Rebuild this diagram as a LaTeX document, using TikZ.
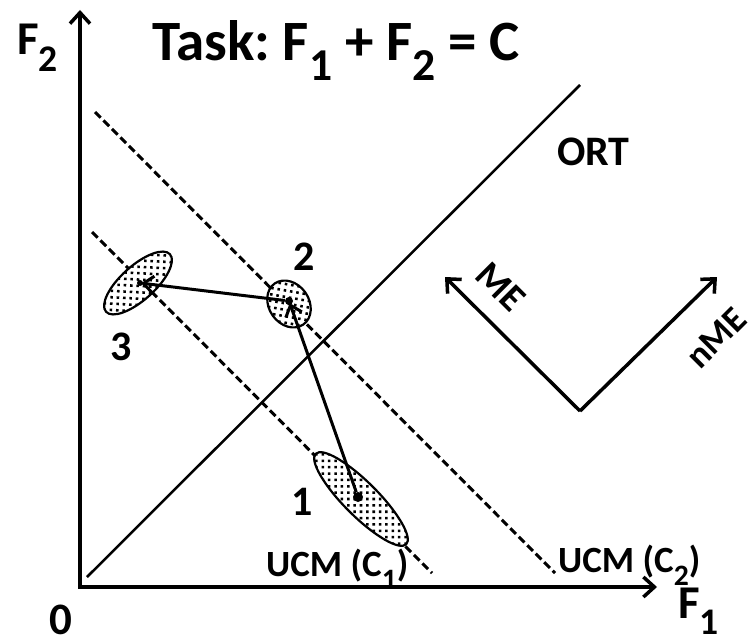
\documentclass[tikz,border=0pt]{standalone}
\usepackage{fontspec}
\setmainfont{Carlito}
\usetikzlibrary{shapes.geometric,arrows.meta,calc}
\newcommand\lowix[1]{\raisebox{-0.36em}{\scalebox{0.8}{#1}}}
\frenchspacing
\begin{document}
\begin{tikzpicture}[x=1pt,y=-1pt,
  fs/.style={font=\fontsize{#1}{#1}\selectfont\bfseries},
  lbl/.style={inner sep=0pt, anchor=base west},
  lblc/.style={inner sep=0pt, anchor=base},
  axis/.style={line width=3.5pt, -{Straight Barb[length=11pt,width=20pt]}},
  dir/.style={line width=3.5pt, -{Straight Barb[length=11pt,width=20pt]}},
  ucm/.style={line width=3pt, dash pattern=on 8pt off 4pt},
  ort/.style={line width=2.5pt},
  move/.style={line width=3pt, shorten >=-2pt, -{Straight Barb[length=10pt,width=17pt]}},
  stipple/.style={path picture={
    \foreach \i in {-8,...,8}{\foreach \j in {-8,...,8}{
      \fill[black] ($(path picture bounding box.center)+(\i*9pt,\j*9pt)$) circle (1.8pt);
      \fill[black] ($(path picture bounding box.center)+(\i*9pt+4.5pt,\j*9pt+4.5pt)$) circle (1.8pt);
    }}}},
  blob/.style={ellipse, draw, line width=2.2pt, fill=white, stipple, inner sep=0pt},
  dot/.style={circle, fill=black, inner sep=0pt, minimum size=10pt}
]
\useasboundingbox (0,0) rectangle (750,642);
% axes
\coordinate (O) at (80,587);
\coordinate (ytip) at (80,10);
\coordinate (xtip) at (657,587);
\draw[axis] ([yshift=1.75pt]O) -- (ytip);
\draw[axis] ([xshift=-1.75pt]O) -- (xtip);
% ORT line
\coordinate (ort0) at (87,577);
\coordinate (ort1) at (580,85);
\draw[ort] (ort0) -- (ort1);
% UCM lines
\coordinate (u2a) at (95,112);
\coordinate (u2b) at (555,573);
\coordinate (u1a) at (92,232);
\coordinate (u1b) at (432,573);
\draw[ucm] (u2a) -- (u2b);
\draw[ucm] (u1a) -- (u1b);
% ellipses
\node[blob, minimum width=128pt, minimum height=34pt, rotate=-45] (e1) at (361,499) {};
\node[blob, minimum width=50pt, minimum height=40pt, rotate=-55] (e2) at (289,304) {};
\node[blob, minimum width=86pt, minimum height=34pt, rotate=42] (e3) at (138,283) {};
% points
\node[dot] (p1) at (358,497) {};
\node[dot, minimum size=8pt] (p2) at (289,301) {};
\node[dot, minimum size=6pt] (p3) at (140,283) {};
\draw[move] (p1) -- (p2);
\draw[move] (p2) -- (p3);
% ME / nME
\coordinate (v) at (580,411);
\coordinate (me) at (445,277);
\coordinate (nme) at (717,277);
\draw[dir] (v) -- (me);
\draw[dir] (v) -- (nme);
\node[fs=38, inner sep=0pt, rotate=-45] (meL) at (501,287) {ME};
\node[fs=36, inner sep=0pt, rotate=45] (nmeL) at (716,338) {nME};
% labels
\node[lbl, fs=57] (title) at (152,60) {Task: F\lowix{1} + F\lowix{2} = C};
\node[lbl, fs=47] (f2) at (17,55) {F\lowix{2}};
\node[lbl, fs=47] (f1) at (678,618) {F\lowix{1}};
\node[lblc, fs=45] (zero) at (61,634) {0};
\node[lbl, fs=42] (ortL) at (557,165) {ORT};
\node[lblc, fs=42] (n2) at (304,270) {2};
\node[lblc, fs=42] (n3) at (121,360) {3};
\node[lblc, fs=42] (n1) at (302,515) {1};
\node[lbl, fs=37] (ucm1) at (266,576) {UCM (C\lowix{1})};
\node[lbl, fs=37] (ucm2) at (558,572) {UCM (C\lowix{2})};
\end{tikzpicture}
\end{document}
